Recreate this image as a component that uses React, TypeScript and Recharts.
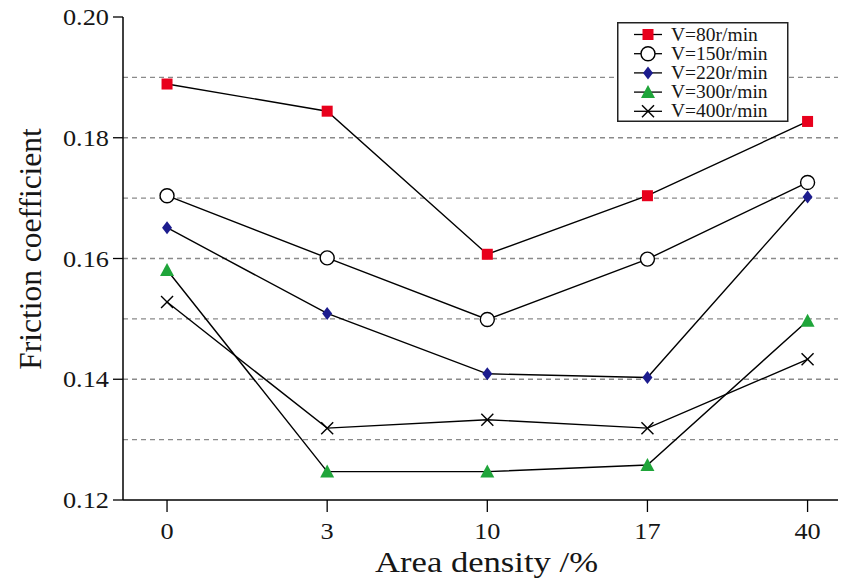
import React from 'react';
import { LineChart, Line, XAxis, YAxis, ReferenceLine } from 'recharts';

const categories = ['0', '3', '10', '17', '40'];
const v80 = [0.1889, 0.1844, 0.1607, 0.1704, 0.1827];
const v150 = [0.1704, 0.1601, 0.1499, 0.1599, 0.1726];
const v220 = [0.1651, 0.1509, 0.1409, 0.1403, 0.1702];
const v300 = [0.1581, 0.1247, 0.1247, 0.1258, 0.1497];
const v400 = [0.1528, 0.1319, 0.1333, 0.1319, 0.1433];
const yTicks = [0.12, 0.14, 0.16, 0.18, 0.2];
const gridValues = [0.13, 0.14, 0.15, 0.16, 0.17, 0.18, 0.19];

const seriesNames = ['V=80r/min', 'V=150r/min', 'V=220r/min', 'V=300r/min', 'V=400r/min'];
const seriesKeys = ['v80', 'v150', 'v220', 'v300', 'v400'];
const seriesShapes = ['square', 'circle', 'diamond', 'triangle', 'cross'];

const data = categories.map((c, i) => ({
  idx: i,
  cat: c,
  v80: v80[i],
  v150: v150[i],
  v220: v220[i],
  v300: v300[i],
  v400: v400[i],
}));

const FONT = '"Liberation Serif", "Times New Roman", serif';
const TXT = '#161616';
const SX = 1.12;

function Marker({ shape, cx, cy }: { shape: string; cx: number; cy: number }) {
  switch (shape) {
    case 'square':
      return <rect x={cx - 5.5} y={cy - 5.5} width={11} height={11} fill="#e8001c" />;
    case 'circle':
      return <circle cx={cx} cy={cy} r={7} fill="#fff" stroke="#000" strokeWidth={1.4} />;
    case 'diamond':
      return (
        <polygon
          points={`${cx},${cy - 6.5} ${cx + 5},${cy} ${cx},${cy + 6.5} ${cx - 5},${cy}`}
          fill="#1c1c8e"
        />
      );
    case 'triangle':
      return (
        <polygon
          points={`${cx},${cy - 7} ${cx + 7},${cy + 6} ${cx - 7},${cy + 6}`}
          fill="#1fa53a"
        />
      );
    case 'cross':
      return (
        <g stroke="#000" strokeWidth={1.4}>
          <line x1={cx - 6} y1={cy - 6} x2={cx + 6} y2={cy + 6} />
          <line x1={cx - 6} y1={cy + 6} x2={cx + 6} y2={cy - 6} />
        </g>
      );
    default:
      return null;
  }
}

const makeDot = (shape: string) => (props: any) => {
  const { cx, cy, index } = props;
  if (cx == null || cy == null) return <g key={index} />;
  return (
    <g key={index}>
      <Marker shape={shape} cx={cx} cy={cy} />
    </g>
  );
};

function XTick(props: any) {
  const { x, y, payload } = props;
  return (
    <g transform={`translate(${x}, ${y + 25}) scale(${SX}, 1)`}>
      <text x={0} y={0} textAnchor="middle" fontFamily={FONT} fontSize={23.5} fill={TXT}>
        {categories[payload.value]}
      </text>
    </g>
  );
}

function YTick(props: any) {
  const { x, y, payload } = props;
  return (
    <g transform={`translate(${x}, ${y + 8}) scale(${SX}, 1)`}>
      <text x={0} y={0} textAnchor="end" fontFamily={FONT} fontSize={23.5} fill={TXT}>
        {Number(payload.value).toFixed(2)}
      </text>
    </g>
  );
}

function CustomLegend() {
  const rowH = 19.2;
  return (
    <svg width={172} height={100} style={{ display: 'block' }}>
      <rect x={0.75} y={0.75} width={170} height={98.5} fill="#fff" stroke="#222" strokeWidth={1.5} />
      {seriesNames.map((n, i) => {
        const y = 12.5 + i * rowH;
        return (
          <g key={n}>
            <line x1={17} x2={45} y1={y} y2={y} stroke="#000" strokeWidth={1.3} />
            <Marker shape={seriesShapes[i]} cx={31} cy={y} />
            <text x={54} y={y + 6} fontFamily={FONT} fontSize={19.5} fill={TXT}>
              {n}
            </text>
          </g>
        );
      })}
    </svg>
  );
}

export default function App() {
  return (
    <div style={{ position: 'absolute', left: 0, top: 0, width: 845, height: 579, background: '#fff' }}>
      <LineChart
        width={845}
        height={579}
        data={data}
        margin={{ top: 17, right: 7, bottom: 0, left: 63 }}
      >
        <XAxis
          dataKey="idx"
          type="number"
          domain={[-0.275, 4.19]}
          allowDataOverflow
          ticks={[0, 1, 2, 3, 4]}
          tickSize={12}
          tickMargin={2}
          axisLine={{ stroke: '#000', strokeWidth: 1.5 }}
          tickLine={{ stroke: '#000', strokeWidth: 1.3 }}
          tick={<XTick />}
          height={79}
          label={{
            content: () => (
              <text
                x={375}
                y={572}
                textLength={223}
                lengthAdjust="spacingAndGlyphs"
                fontFamily={FONT}
                fontSize={29}
                fill={TXT}
              >
                Area density /%
              </text>
            ),
          }}
        />
        <XAxis
          xAxisId="top"
          orientation="top"
          dataKey="idx"
          type="number"
          domain={[-0.275, 4.19]}
          allowDataOverflow
          tick={false}
          tickLine={false}
          height={0}
          axisLine={{ stroke: '#000', strokeWidth: 1.5 }}
        />
        <YAxis
          type="number"
          domain={[0.12, 0.2]}
          allowDataOverflow
          ticks={yTicks}
          tickSize={10}
          tickMargin={4}
          width={60}
          axisLine={{ stroke: '#000', strokeWidth: 1.5 }}
          tickLine={{ stroke: '#000', strokeWidth: 1.3 }}
          tick={<YTick />}
          label={{
            content: () => (
              <text
                x={30}
                y={249}
                transform="rotate(-90, 30, 249)"
                textAnchor="middle"
                dominantBaseline="central"
                fontFamily={FONT}
                fontSize={31.5}
                fill={TXT}
              >
                Friction coefficient
              </text>
            ),
          }}
        />
        <YAxis
          yAxisId="right"
          orientation="right"
          type="number"
          domain={[0.12, 0.2]}
          tick={false}
          tickLine={false}
          width={0}
          axisLine={{ stroke: '#000', strokeWidth: 1.5 }}
        />
        {gridValues.map((g) => (
          <ReferenceLine
            key={g}
            y={g}
            stroke="#8a8a8a"
            strokeWidth={1.3}
            strokeDasharray="5 4"
          />
        ))}
        {seriesKeys.map((k, i) => (
          <Line
            key={k}
            dataKey={k}
            name={seriesNames[i]}
            stroke="#000"
            strokeWidth={1.4}
            isAnimationActive={false}
            dot={makeDot(seriesShapes[i])}
            activeDot={false}
          />
        ))}
      </LineChart>
      <div style={{ position: 'absolute', left: 617, top: 22, width: 172, height: 100 }}>
        <CustomLegend />
      </div>
    </div>
  );
}
